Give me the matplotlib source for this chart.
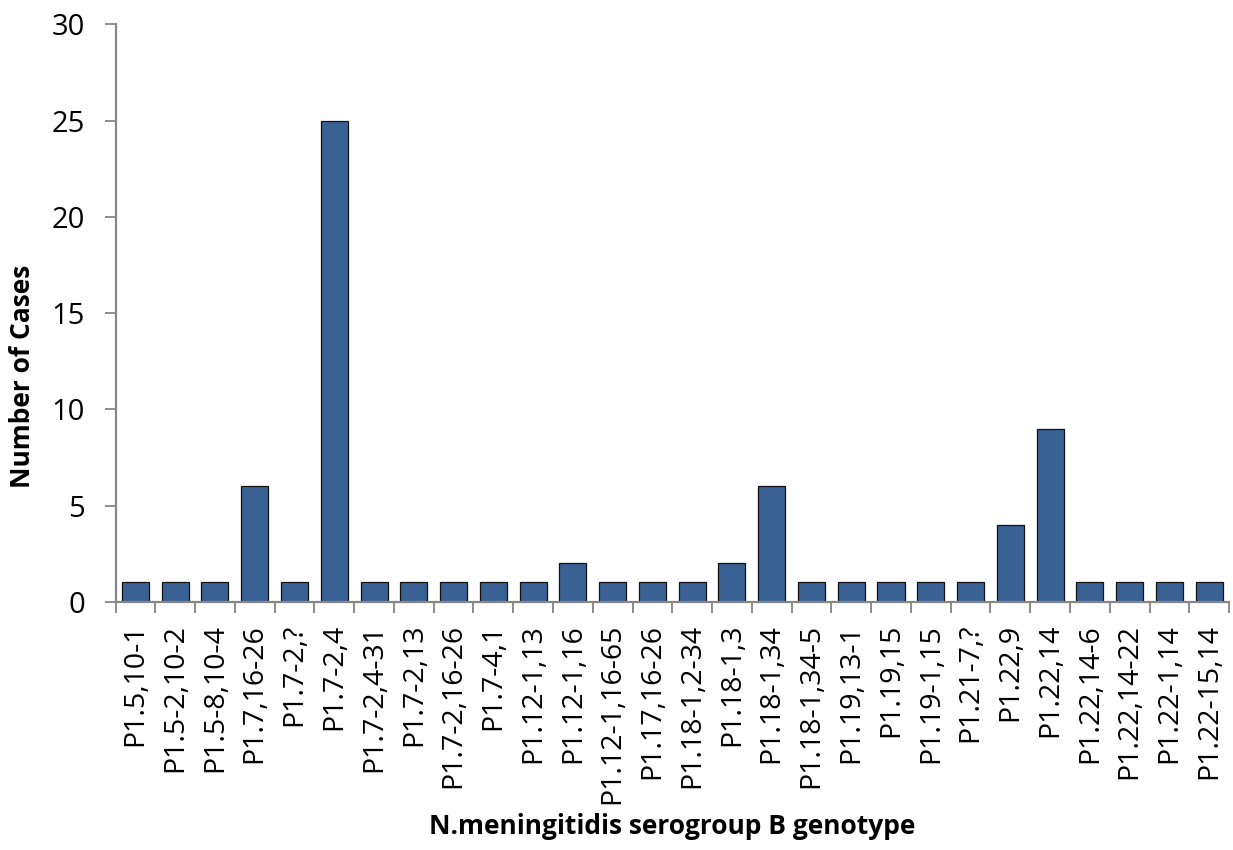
import numpy as np
import matplotlib.pyplot as plt

# genotypes and case counts
genotypes = ['P1.5,10-1', 'P1.5-2,10-2', 'P1.5-8,10-4', 'P1.7,16-26', 'P1.7-2,?',
             'P1.7-2,4', 'P1.7-2,4-31', 'P1.7-2,13', 'P1.7-2,16-26', 'P1.7-4,1',
             'P1.12-1,13', 'P1.12-1,16', 'P1.12-1,16-65', 'P1.17,16-26', 'P1.18-1,2-34',
             'P1.18-1,3', 'P1.18-1,34', 'P1.18-1,34-5', 'P1.19,13-1', 'P1.19,15',
             'P1.19-1,15', 'P1.21-7,?', 'P1.22,9', 'P1.22,14', 'P1.22,14-6',
             'P1.22,14-22', 'P1.22-1,14', 'P1.22-15,14']
cases = [1, 1, 1, 6, 1, 25, 1, 1, 1, 1, 1, 2, 1, 1, 1, 2, 6, 1, 1, 1,
         1, 1, 4, 9, 1, 1, 1, 1]
y_ticks = [0, 5, 10, 15, 20, 25, 30]

plt.rcParams['font.family'] = ['Open Sans', 'DejaVu Sans']
axis_grey = '#868686'

fig = plt.figure(figsize=(12.33, 8.5), dpi=100)
ax = fig.add_axes([0.0937, 0.2921, 0.9031, 0.6791])

x = np.arange(len(genotypes))
ax.bar(x, cases, width=0.68, color='#3a6193', edgecolor='#111111', linewidth=0.9)

ax.set_xlim(-0.5, len(genotypes) - 0.5)
ax.set_ylim(0, 30)
ax.set_yticks(y_ticks)
ax.tick_params(axis='y', labelsize=21, length=8, width=1.3, color=axis_grey, pad=14)

# boundary ticks (major) and centred labels (minor)
ax.set_xticks(np.arange(-0.5, len(genotypes)), minor=False)
ax.set_xticklabels([])
ax.tick_params(axis='x', which='major', length=8, width=1.3, color=axis_grey, direction='out')
ax.set_xticks(x, minor=True)
ax.set_xticklabels(genotypes, minor=True, rotation=90, fontsize=20.5)
ax.tick_params(axis='x', which='minor', length=0, pad=16)

for s in ['top', 'right']:
    ax.spines[s].set_visible(False)
for s in ['left', 'bottom']:
    ax.spines[s].set_color(axis_grey)
    ax.spines[s].set_linewidth(1.6)

ax.set_ylabel('Number of Cases', fontsize=19, fontweight='bold')
ax.yaxis.set_label_coords(-0.071, 0.39)
ax.set_xlabel('N.meningitidis serogroup B genotype', fontsize=19, fontweight='bold', labelpad=6)

fig.savefig('out.png', dpi=100)
